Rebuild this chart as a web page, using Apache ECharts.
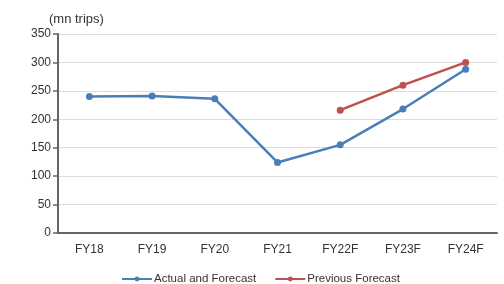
<!DOCTYPE html>
<html>
<head>
    <meta charset="utf-8">
    <title>Trips</title>
</head>
<body style="margin:0">
    <div id="main" style="width: 504px;height:284px;"></div>
    <script src="https://cdn.jsdelivr.net/npm/echarts@6/dist/echarts.min.js"></script>
    <script>
        var categories = ['FY18', 'FY19', 'FY20', 'FY21', 'FY22F', 'FY23F', 'FY24F'];
        var actualForecast = [240, 241, 236, 124, 155, 218, 288];
        var previousForecast = ['-', '-', '-', '-', 216, 260, 300];
        var yTicks = [0, 50, 100, 150, 200, 250, 300, 350];

        var myChart = echarts.init(document.getElementById('main'));
        var option = {
            backgroundColor: '#fff',
            animation: false,
            textStyle: { fontFamily: 'Liberation Sans, Arial, sans-serif' },
            title: {
                text: '(mn trips)',
                left: 44,
                top: 8,
                textStyle: { fontSize: 13, fontWeight: 'normal', color: '#333' }
            },
            legend: {
                top: 268,
                left: 116,
                itemGap: 18,
                itemWidth: 30,
                itemHeight: 6,
                textStyle: { fontSize: 11.5, color: '#333', padding: [0, 0, 0, -3] },
                data: ['Actual and Forecast', 'Previous Forecast']
            },
            grid: { left: 58, right: 7, top: 34, bottom: 51 },
            xAxis: {
                type: 'category',
                data: categories,
                axisLine: { lineStyle: { color: '#666', width: 2 } },
                axisTick: { show: false },
                axisLabel: { fontSize: 12, color: '#333', margin: 11 }
            },
            yAxis: {
                type: 'value',
                min: yTicks[0],
                max: yTicks[yTicks.length - 1],
                interval: 50,
                axisLine: { show: true, lineStyle: { color: '#666', width: 2 } },
                axisTick: { show: true, inside: false, length: 5, lineStyle: { color: '#666', width: 1.5 } },
                axisLabel: { fontSize: 12, color: '#333', margin: 7 },
                splitLine: { lineStyle: { color: '#dcdcdc', width: 1 } }
            },
            series: [{
                    name: 'Actual and Forecast',
                    type: 'line',
                    data: actualForecast,
                    symbol: 'circle',
                    symbolSize: 7,
                    color: '#4a7ebb',
                    lineStyle: { width: 2.5 }
                },
                {
                    name: 'Previous Forecast',
                    type: 'line',
                    data: previousForecast,
                    symbol: 'circle',
                    symbolSize: 7,
                    color: '#c0504d',
                    lineStyle: { width: 2.5 }
                }
            ]
        };
        myChart.setOption(option);
    </script>
</body>
</html>
